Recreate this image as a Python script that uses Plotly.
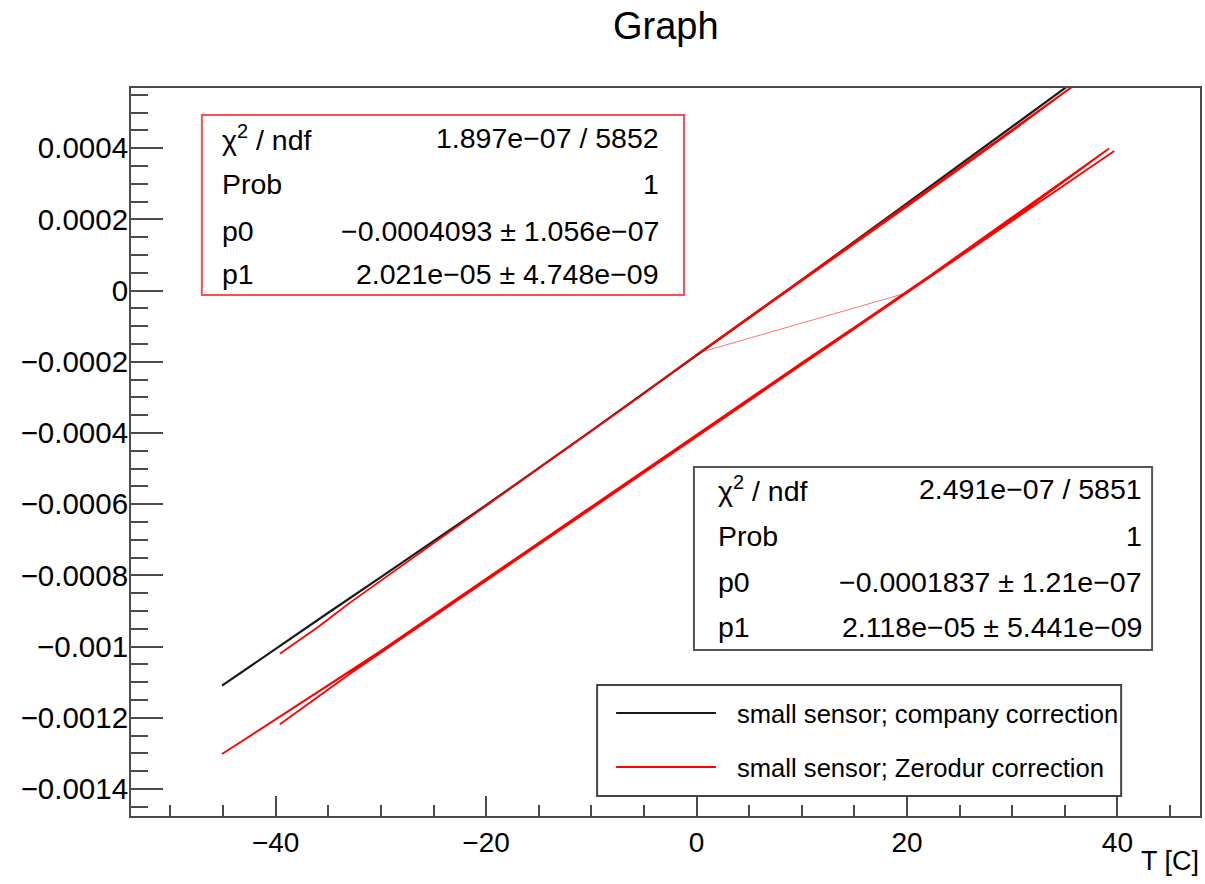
import plotly.graph_objects as go

# ---------------- data ----------------
series_names = ["small sensor; company correction", "small sensor; Zerodur correction"]

company_T = [-45.1, -40, -35, -30, -20, -10, 0, 10, 20, 30, 36]
company_dL = [-0.001110, -0.001006, -0.000905, -0.000805, -0.000603, -0.000394,
              -0.000182, 0.000030, 0.000245, 0.000462, 0.000590]

zerodur_up_T = [-39.6, -36, -33, -25, -15, -5, 0, 10, 20, 30, 36.5, 30, 20, 10, 2, 0.3]
zerodur_up_dL = [-0.001020, -0.000946, -0.000878, -0.000710, -0.000500, -0.000289,
                 -0.000180, 0.000030, 0.000240, 0.000452, 0.000590, 0.000448,
                 0.000236, 0.000026, -0.000140, -0.000174]

zerodur_low_T = [19.8, 30, 39.2, 30, 10, -10, -30, -45.1, -30, -10, 10, 30, 39.7,
                 20, 0, -20, -33, -39.6]
zerodur_low_dL = [-0.000008, 0.000205, 0.000399, 0.000200, -0.000205, -0.000609,
                  -0.001014, -0.001302, -0.001012, -0.000607, -0.000203, 0.000196,
                  0.000392, -0.000005, -0.000410, -0.000813, -0.001078, -0.001218]

x_tickvals = [-40, -20, 0, 20, 40]
x_ticktext = ["\u221240", "\u221220", "0", "20", "40"]
y_tickvals = [0.0004, 0.0002, 0, -0.0002, -0.0004, -0.0006, -0.0008, -0.001, -0.0012, -0.0014]
y_ticktext = ["0.0004", "0.0002", "0", "\u22120.0002", "\u22120.0004", "\u22120.0006",
              "\u22120.0008", "\u22120.001", "\u22120.0012", "\u22120.0014"]

stats_zerodur = [("\u03c7<sup>2</sup> / ndf", "1.897e\u221207 / 5852"),
                 ("Prob", "1"),
                 ("p0", "\u22120.0004093 \u00b1 1.056e\u221207"),
                 ("p1", "2.021e\u221205 \u00b1 4.748e\u221209")]
stats_company = [("\u03c7<sup>2</sup> / ndf", "2.491e\u221207 / 5851"),
                 ("Prob", "1"),
                 ("p0", "\u22120.0001837 \u00b1 1.21e\u221207"),
                 ("p1", "2.118e\u221205 \u00b1 5.441e\u221209")]

# ---------------- layout helpers ----------------
W, H = 1205, 884
L, R, T, B = 131, 3, 88, 68
PW = W - L - R
PH = H - T - B


def px(x):
    return (x - L) / PW


def py(y):
    return (H - B - y) / PH


FONT = "Liberation Sans, Arial, Helvetica, sans-serif"
BLACK = "#1a1a1a"
RED = "#ff0000"
FRAME = "#4a4a4a"
STAT_SIZE = 28.5

fig = go.Figure()

fig.add_trace(go.Scatter(x=company_T, y=company_dL, mode="lines",
                         line=dict(color=BLACK, width=2.2), name=series_names[0],
                         showlegend=False))
fig.add_trace(go.Scatter(x=zerodur_up_T, y=zerodur_up_dL, mode="lines",
                         line=dict(color=RED, width=1.8), name=series_names[1],
                         showlegend=False))
fig.add_trace(go.Scatter(x=[zerodur_up_T[-1], zerodur_low_T[0]],
                         y=[zerodur_up_dL[-1], zerodur_low_dL[0]], mode="lines",
                         line=dict(color=RED, width=1), opacity=0.55,
                         name=series_names[1], showlegend=False))
fig.add_trace(go.Scatter(x=zerodur_low_T, y=zerodur_low_dL, mode="lines",
                         line=dict(color=RED, width=1.8), name=series_names[1],
                         showlegend=False))

shapes = []
annotations = []

# title
annotations.append(dict(text="Graph", x=px(667), y=py(26), xref="paper", yref="paper",
                        showarrow=False, xanchor="center", yanchor="middle",
                        font=dict(size=38, color="black", family=FONT)))
# x-axis title
annotations.append(dict(text="T [C]", x=px(1203), y=py(861), xref="paper", yref="paper",
                        showarrow=False, xanchor="right", yanchor="middle",
                        font=dict(size=27, color="black", family=FONT)))


def stat_box(x0, y0, x1, y1, color, rows, xl, xr, ys):
    shapes.append(dict(type="rect", xref="paper", yref="paper",
                       x0=px(x0), x1=px(x1), y0=py(y1), y1=py(y0),
                       line=dict(color=color, width=2), fillcolor="white", layer="above"))
    for (lab, val), yy in zip(rows, ys):
        annotations.append(dict(text=lab, x=px(xl), y=py(yy), xref="paper", yref="paper",
                                showarrow=False, xanchor="left", yanchor="middle",
                                font=dict(size=STAT_SIZE, color="black", family=FONT)))
        annotations.append(dict(text=val, x=px(xr), y=py(yy), xref="paper", yref="paper",
                                showarrow=False, xanchor="right", yanchor="middle",
                                font=dict(size=STAT_SIZE, color="black", family=FONT)))


stat_box(202, 115, 685, 295, "#ff4d4d", stats_zerodur, 220, 662, [138, 184, 231, 274])
stat_box(695, 467, 1154, 650, "#555555", stats_company, 717, 1146, [489, 536, 582, 627])

# legend
shapes.append(dict(type="rect", xref="paper", yref="paper",
                   x0=px(598), x1=px(1123), y0=py(796), y1=py(685),
                   line=dict(color="#444444", width=2), fillcolor="white", layer="above"))
for name, col, yy in zip(series_names, [BLACK, RED], [713, 767]):
    shapes.append(dict(type="line", xref="paper", yref="paper",
                       x0=px(617), x1=px(717), y0=py(yy), y1=py(yy),
                       line=dict(color=col, width=2), layer="above"))
    annotations.append(dict(text=name, x=px(736), y=py(yy + 1), xref="paper", yref="paper",
                            showarrow=False, xanchor="left", yanchor="middle",
                            font=dict(size=25.6, color="black", family=FONT)))

fig.update_layout(
    width=W, height=H,
    margin=dict(l=L, r=R, t=T, b=B),
    paper_bgcolor="white", plot_bgcolor="white",
    showlegend=False,
    shapes=shapes, annotations=annotations,
    font=dict(family=FONT, size=28, color="black"),
)

fig.update_xaxes(
    range=[-53.75, 47.85], showgrid=False, zeroline=False,
    showline=True, mirror=True, linecolor=FRAME, linewidth=2,
    ticks="inside", ticklen=20, tickwidth=2, tickcolor=FRAME,
    tickvals=x_tickvals, ticktext=x_ticktext,
    tickfont=dict(size=28, family=FONT, color="black"),
    minor=dict(ticks="inside", ticklen=11, tickwidth=2, tickcolor=FRAME, dtick=5, tick0=0,
               showgrid=False),
)
fig.update_yaxes(
    range=[-0.001476, 0.000569], showgrid=False, zeroline=False,
    showline=True, mirror=True, linecolor=FRAME, linewidth=2,
    ticks="inside", ticklen=32, tickwidth=2, tickcolor=FRAME,
    tickvals=y_tickvals, ticktext=y_ticktext, ticklabelstandoff=-5,
    tickfont=dict(size=29.5, family=FONT, color="black"),
    minor=dict(ticks="inside", ticklen=17, tickwidth=2, tickcolor=FRAME, dtick=0.00005,
               tick0=0, showgrid=False),
)

fig.write_html("out.html")
